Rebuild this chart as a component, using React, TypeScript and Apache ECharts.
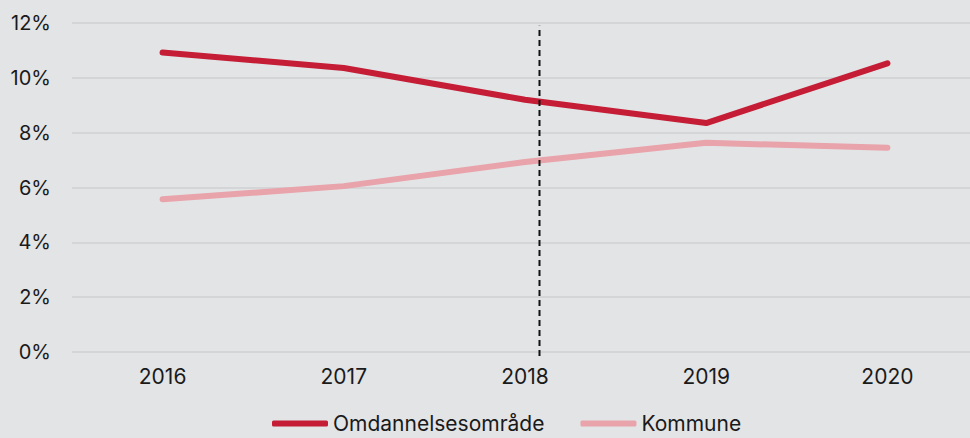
import React, { useEffect, useRef } from "react";
import * as echarts from "echarts";

const categories = ["2016", "2017", "2018", "2019", "2020"];
const omdannelsesomrade = [10.92, 10.36, 9.2, 8.35, 10.53];
const kommune = [5.57, 6.05, 6.93, 7.63, 7.45];
const markerPosition = 2.08; // category-index position of dashed marker
const markerRange = [-0.15, 11.9];
const yTicks = [0, 2, 4, 6, 8, 10, 12];

export default function App() {
  const ref = useRef<HTMLDivElement>(null);
  useEffect(() => {
    if (!ref.current) return;
    const chart = echarts.init(ref.current, null, { renderer: "svg" });
    const font = "Inter, 'Noto Sans', sans-serif";
    chart.setOption({
      animation: false,
      backgroundColor: "#e3e4e6",
      textStyle: { fontFamily: font },
      grid: {
        left: 72,
        width: 906,
        top: 23,
        bottom: 86,
        containLabel: false,
        outerBoundsMode: "none",
      },
      legend: {
        data: ["Omdannelsesområde", "Kommune"],
        top: 413,
        left: 272,
        icon: "roundRect",
        itemWidth: 56,
        itemHeight: 6,
        itemGap: 36,
        padding: 0,
        textStyle: { fontFamily: font, fontSize: 21, color: "#1a1a1a" },
      },
      xAxis: [
        {
          type: "category",
          data: categories,
          boundaryGap: true,
          axisLine: { show: false },
          axisTick: { show: false },
          axisLabel: { fontFamily: font, fontSize: 21, color: "#1a1a1a", margin: 14 },
        },
        {
          type: "value",
          min: -0.5,
          max: 4.5,
          show: false,
        },
      ],
      yAxis: {
        type: "value",
        min: yTicks[0],
        max: yTicks[yTicks.length - 1],
        interval: 2,
        axisLine: { show: false },
        axisTick: { show: false },
        splitLine: { lineStyle: { color: "#d4d5d7", width: 2 } },
        axisLabel: {
          fontFamily: font,
          fontSize: 20,
          color: "#1a1a1a",
          margin: 21,
          formatter: (v: number) => `${v}%`,
        },
      },
      series: [
        {
          name: "Marker",
          type: "line",
          xAxisIndex: 1,
          data: markerRange.map((y) => [markerPosition, y]),
          showSymbol: false,
          clip: false,
          lineStyle: { color: "#111", width: 2, type: [6, 4] },
          z: 5,
        },
        {
          name: "Omdannelsesområde",
          type: "line",
          data: omdannelsesomrade,
          showSymbol: false,
          itemStyle: { color: "#c41d35" },
          lineStyle: { color: "#c41d35", width: 6, cap: "round", join: "round" },
          z: 3,
        },
        {
          name: "Kommune",
          type: "line",
          data: kommune,
          showSymbol: false,
          itemStyle: { color: "#e8a3ab" },
          lineStyle: { color: "#e8a3ab", width: 6, cap: "round", join: "round" },
          z: 2,
        },
      ],
    });
    return () => chart.dispose();
  }, []);
  return (
    <div
      ref={ref}
      style={{ position: "fixed", left: 0, top: 0, width: 970, height: 438 }}
    />
  );
}
